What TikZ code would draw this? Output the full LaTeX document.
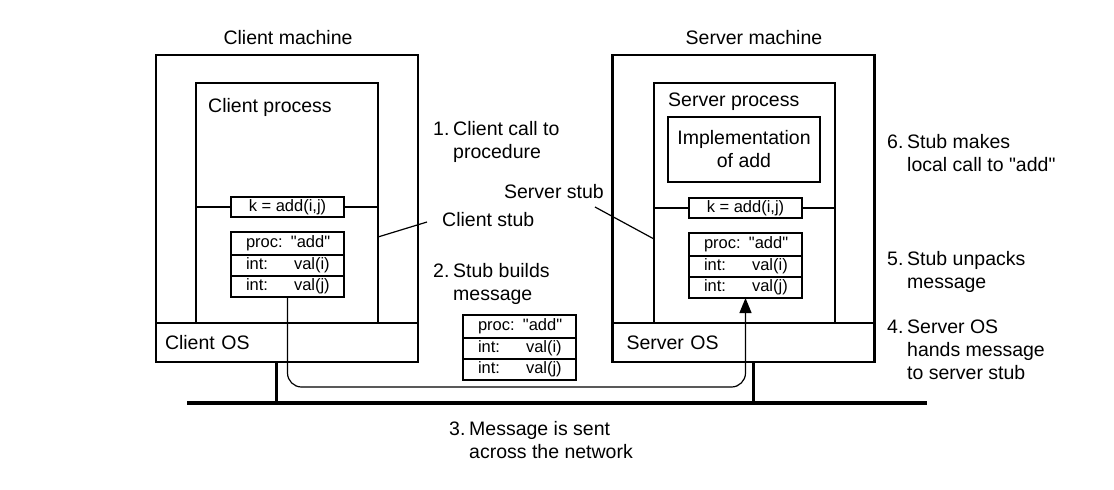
\documentclass[tikz,border=0pt]{standalone}
\usepackage{fontspec}
\setmainfont{Liberation Sans}[Ligatures=TeXOff]
\usetikzlibrary{arrows.meta,positioning}

\newcommand{\lblfont}{\fontsize{19.5}{23}\selectfont}
\newcommand{\fieldfont}{\fontsize{16.5}{20}\selectfont}
\newcommand{\intlabel}{\makebox[48pt][l]{int:}}
\newcommand{\stepno}[1]{\makebox[20pt][l]{#1}}
\newcommand{\stepgap}{\hspace*{20pt}}

\tikzset{
  machine/.style={draw, line width=2.4pt, minimum width=262pt, minimum height=307pt, inner sep=0pt, outer sep=0pt},
  osband/.style={draw, line width=1.2pt, minimum height=39pt, text width=244pt, inner xsep=9pt, inner ysep=0pt, outer sep=0pt, align=left, font=\lblfont},
  process/.style={draw, line width=1.2pt, minimum width=182pt, minimum height=240pt, inner sep=0pt, outer sep=0pt},
  field/.style={draw, line width=1.2pt, minimum width=113pt, minimum height=20pt, inner xsep=4pt, inner ysep=1pt, outer sep=0pt, font=\fieldfont},
  msgrow/.style={field, minimum height=21pt, text width=95pt, inner xsep=9pt, align=left},
  lbl/.style={inner sep=0pt, font=\lblfont},
  steptext/.style={lbl, align=left, anchor=north west},
  thinline/.style={line width=1.2pt},
  network/.style={line width=3.6pt},
  tap/.style={line width=3pt},
  msgpath/.style={line width=1.2pt, rounded corners=14pt, -{Triangle[length=15pt,width=12pt]}},
}

\begin{document}
\begin{tikzpicture}[x=1pt,y=-1pt]
    \useasboundingbox (0,0) rectangle (1114,490);

    % Client machine
    \node[machine] (cm) at (287,208.5) {};
    \node[osband, anchor=south] (cos) at (cm.south) {Client OS};
    \node[process] (cp) at (287,203) {};
    \node[lbl, anchor=base] (cmname) at (288,44) {Client machine};
    \node[lbl, anchor=base west] (cpname) at (208,112) {Client process};

    % Client stub
    \node[field] (kc) at (287.5,207) {k = add(i,j)};
    \draw[thinline] (cp.west |- kc.west) -- (kc.west);
    \draw[thinline] (kc.east) -- (cp.east |- kc.east);
    \node[msgrow, minimum height=23pt] (mc1) at (287.5,243.5) {\hspace*{6pt}proc: "add"};
    \node[msgrow, below=0pt of mc1] (mc2) {\hspace*{6pt}\intlabel val(i)};
    \node[msgrow, below=0pt of mc2] (mc3) {\hspace*{6pt}\intlabel val(j)};
    \node[lbl, anchor=base west] (cstub) at (442,226) {Client stub};
    \coordinate (cstubend) at (427,222);
    \draw[thinline] ([yshift=-34pt]cp.east) -- (cstubend);

    % Server machine
    \node[machine] (sm) at (743.5,208.5) {};
    \node[osband, inner xsep=14pt, text width=234pt, anchor=south] (sos) at (sm.south) {Server OS};
    \node[process, minimum width=181pt] (sp) at (744.5,203) {};
    \node[lbl, anchor=base] (smname) at (754,44) {Server machine};
    \node[lbl, anchor=base west] (spname) at (668,106) {Server process};
    \node[draw, thinline, minimum width=152pt, minimum height=65pt, inner sep=0pt, outer sep=0pt,
          align=center, font=\lblfont] (imp) at (744,149.5) {Implementation\\of add};

    % Server stub
    \node[field] (ks) at (745.5,208) {k = add(i,j)};
    \draw[thinline] (sp.west |- ks.west) -- (ks.west);
    \draw[thinline] (ks.east) -- (sp.east |- ks.east);
    \node[msgrow, minimum height=23pt] (ms1) at (745.5,244.5) {\hspace*{6pt}proc: "add"};
    \node[msgrow, below=0pt of ms1] (ms2) {\hspace*{6pt}\intlabel val(i)};
    \node[msgrow, below=0pt of ms2] (ms3) {\hspace*{6pt}\intlabel val(j)};
    \node[lbl, anchor=base east] (sstub) at (604,198) {Server stub};
    \coordinate (sstubend) at (595,207);
    \draw[thinline] ([yshift=-36pt]sp.west) -- (sstubend);

    % Message on the way
    \node[msgrow, minimum height=23pt] (mm1) at (519.5,326.5) {\hspace*{6pt}proc: "add"};
    \node[msgrow, below=0pt of mm1] (mm2) {\hspace*{6pt}\intlabel val(i)};
    \node[msgrow, below=0pt of mm2] (mm3) {\hspace*{6pt}\intlabel val(j)};

    % Network
    \coordinate (netw) at (187,403);
    \coordinate (nete) at (927,403);
    \coordinate (ctap) at (276,403);
    \coordinate (stap) at (753,403);
    \draw[network] (netw) -- (nete);
    \draw[tap] (ctap |- cos.south) -- (ctap);
    \draw[tap] (stap |- sos.south) -- (stap);

    % Path of the message
    \coordinate (route) at (500,387);
    \draw[msgpath] (mc3.south) |- (route) -| (ms3.south);

    % Steps
    \node[steptext] (s1) at (433,121) {\stepno{1.}Client call to\\\stepgap procedure};
    \node[steptext] (s2) at (433,263) {\stepno{2.}Stub builds\\\stepgap message};
    \node[steptext] (s3) at (449,421) {\stepno{3.}Message is sent\\\stepgap across the network};
    \node[steptext] (s4) at (887,320) {\stepno{4.}Server OS\\\stepgap hands message\\\stepgap to server stub};
    \node[steptext] (s5) at (887,251) {\stepno{5.}Stub unpacks\\\stepgap message};
    \node[steptext] (s6) at (887,134) {\stepno{6.}Stub makes\\\stepgap local call to "add"};
\end{tikzpicture}
\end{document}
